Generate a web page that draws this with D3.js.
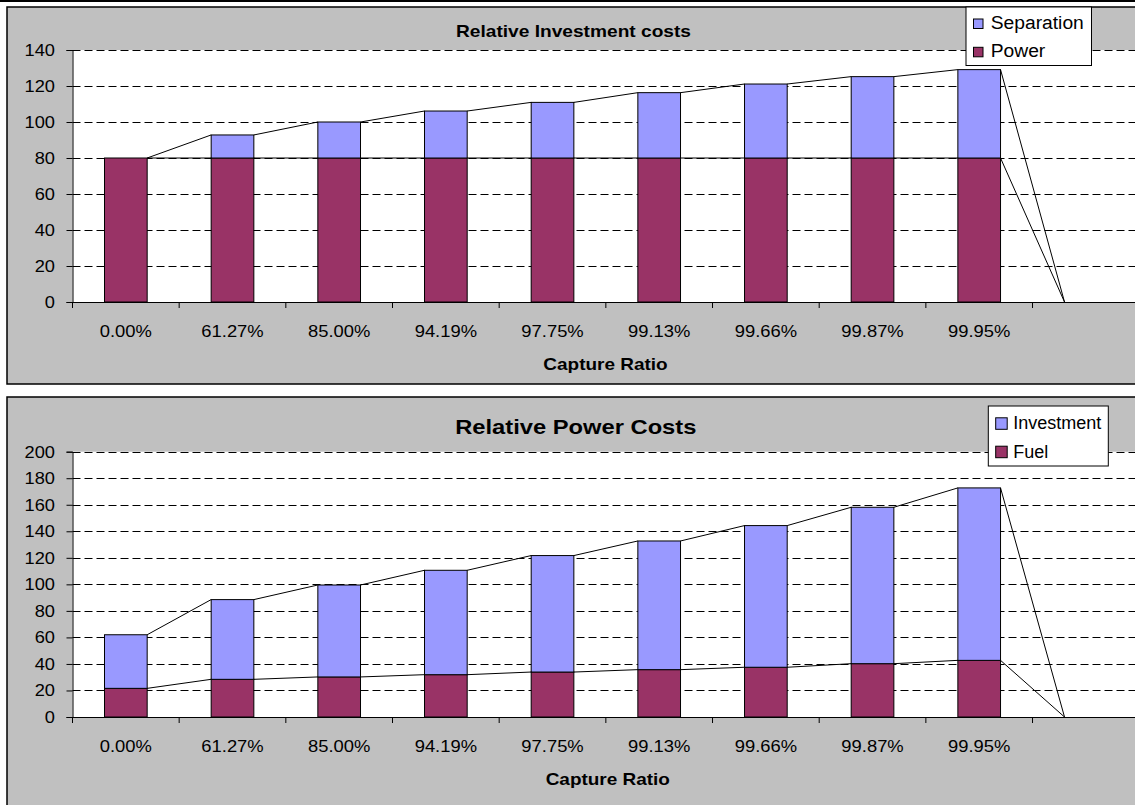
<!DOCTYPE html>
<html>
<head>
<meta charset="utf-8">
<script src="https://cdn.jsdelivr.net/npm/d3@7"></script>
<style>
  html, body { margin: 0; padding: 0; background: #fff; }
  svg { display: block; font-family: "Liberation Sans", Arial, sans-serif; }
</style>
</head>
<body>
<svg id="chart" width="1135" height="805"></svg>
<script>
// Capture-ratio categories (the last slot is an empty category with zero height)
const categories = ["0.00%", "61.27%", "85.00%", "94.19%", "97.75%", "99.13%", "99.66%", "99.87%", "99.95%", ""];

// Relative investment costs
const powerValues = [80, 80, 80, 80, 80, 80, 80, 80, 80, 0];
const separationValues = [0, 12.8, 20, 26.1, 30.9, 36.3, 41.1, 45.2, 49.1, 0];
const investmentTicks = [0, 20, 40, 60, 80, 100, 120, 140];

// Relative power costs
const fuelValues = [21.6, 28.4, 30.2, 31.9, 33.9, 35.7, 37.5, 40.2, 42.7, 0];
const investmentValues = [40.4, 60.1, 69.3, 78.7, 87.8, 97.0, 106.8, 117.9, 130.0, 0];
const powerTicks = [0, 20, 40, 60, 80, 100, 120, 140, 160, 180, 200];

const COLOR_LOWER = "#993366";
const COLOR_UPPER = "#9999FF";
const FONT = "'Liberation Sans', Arial, sans-serif";

const svg = d3.select("#chart");

// thin rule along the top edge
svg.append("rect").attr("x", 0).attr("y", 0).attr("width", 1135).attr("height", 2).attr("fill", "#000");

// text helper: Excel-style horizontally stretched glyphs
function stretchedText(g, x, y, str, opts) {
  return g.append("text")
    .attr("transform", `translate(${x},${y}) scale(${opts.sx || 1},1)`)
    .attr("text-anchor", opts.anchor || "start")
    .attr("font-family", FONT)
    .attr("font-size", opts.size)
    .attr("font-weight", opts.weight || "normal")
    .attr("fill", "#000")
    .text(str);
}

function drawChart(cfg) {
  const g = svg.append("g");

  // chart area
  g.append("rect")
    .attr("x", cfg.frame.x).attr("y", cfg.frame.y)
    .attr("width", cfg.frame.w).attr("height", cfg.frame.h)
    .attr("fill", "#C0C0C0").attr("stroke", "#000").attr("stroke-width", 1.5);

  const x = d3.scaleBand()
    .domain(categories)
    .range([cfg.plot.left, cfg.plot.right])
    .paddingInner(0.6)
    .paddingOuter(0.3);
  const step = x.step();

  const y = d3.scaleLinear()
    .domain([0, cfg.yMax])
    .range([cfg.plot.bottom, cfg.plot.top]);

  // plot area
  g.append("rect")
    .attr("x", cfg.plot.left).attr("y", cfg.plot.top)
    .attr("width", cfg.plot.right - cfg.plot.left)
    .attr("height", cfg.plot.bottom - cfg.plot.top)
    .attr("fill", "#fff");

  // dashed gridlines
  g.append("g").selectAll("line")
    .data(cfg.ticks.filter(t => t > 0))
    .join("line")
    .attr("x1", cfg.plot.left).attr("x2", cfg.plot.right)
    .attr("y1", d => Math.round(y(d)) + 0.5).attr("y2", d => Math.round(y(d)) + 0.5)
    .attr("stroke", "#000").attr("stroke-width", 1)
    .attr("stroke-dasharray", "8,4");

  // stacked bars
  const stack = d3.stack().keys(["lower", "upper"]);
  const rows = categories.map((c, i) => ({ cat: c, lower: cfg.lower[i], upper: cfg.upper[i] }));
  const layers = stack(rows);
  const colors = [COLOR_LOWER, COLOR_UPPER];

  layers.forEach((layer, li) => {
    g.append("g").selectAll("rect")
      .data(layer.filter(d => d[1] - d[0] > 0))
      .join("rect")
      .attr("x", d => x(d.data.cat))
      .attr("width", x.bandwidth())
      .attr("y", d => y(d[1]))
      .attr("height", d => y(d[0]) - y(d[1]))
      .attr("fill", colors[li])
      .attr("stroke", "#000").attr("stroke-width", 1);
  });

  // series lines joining the tops of neighbouring stacks
  layers.forEach(layer => {
    const segs = [];
    for (let i = 0; i < layer.length - 1; i++) {
      segs.push({
        x1: x(layer[i].data.cat) + x.bandwidth(), y1: y(layer[i][1]),
        x2: x(layer[i + 1].data.cat), y2: y(layer[i + 1][1])
      });
    }
    g.append("g").selectAll("line")
      .data(segs)
      .join("line")
      .attr("x1", d => d.x1).attr("y1", d => d.y1)
      .attr("x2", d => d.x2).attr("y2", d => d.y2)
      .attr("stroke", "#000").attr("stroke-width", 1);
  });

  // value axis
  const yAxis = d3.axisLeft(y).tickValues(cfg.ticks).tickSize(6).tickFormat("");
  const ya = g.append("g").attr("transform", `translate(${cfg.plot.left},0)`).call(yAxis);
  ya.selectAll("path,line").attr("stroke", "#000");
  cfg.ticks.forEach(t => {
    stretchedText(g, cfg.plot.left - 17.5, y(t) + 6, String(t), { size: 16, sx: 1.14, anchor: "end" });
  });

  // category axis with ticks on category boundaries
  g.append("line")
    .attr("x1", cfg.plot.left).attr("x2", cfg.plot.right)
    .attr("y1", cfg.plot.bottom + 0.5).attr("y2", cfg.plot.bottom + 0.5)
    .attr("stroke", "#000").attr("stroke-width", 1);
  g.append("g").selectAll("line")
    .data(d3.range(categories.length + 1))
    .join("line")
    .attr("x1", k => cfg.plot.left + k * step).attr("x2", k => cfg.plot.left + k * step)
    .attr("y1", cfg.plot.bottom).attr("y2", cfg.plot.bottom + 6)
    .attr("stroke", "#000").attr("stroke-width", 1);
  categories.forEach(c => {
    if (c) stretchedText(g, x(c) + x.bandwidth() / 2, cfg.plot.bottom + 34.5, c, { size: 16, sx: 1.15, anchor: "middle" });
  });

  // titles
  stretchedText(g, cfg.titleX, cfg.titleY, cfg.title, { size: cfg.titleSize, sx: cfg.titleSx, anchor: "middle", weight: "bold" });
  stretchedText(g, cfg.titleX + 32, cfg.plot.bottom + 67.5, "Capture Ratio", { size: 16.5, sx: 1.15, anchor: "middle", weight: "bold" });

  // legend
  const L = cfg.legend;
  g.append("rect")
    .attr("x", L.x).attr("y", L.y).attr("width", L.w).attr("height", L.h)
    .attr("fill", "#fff").attr("stroke", "#000").attr("stroke-width", 1);
  const items = [
    { label: cfg.upperName, color: COLOR_UPPER },
    { label: cfg.lowerName, color: COLOR_LOWER }
  ];
  items.forEach((it, i) => {
    const by = L.firstBaseline + i * L.rowGap;
    g.append("rect")
      .attr("x", L.swatchX).attr("y", by - L.swatch)
      .attr("width", L.swatch).attr("height", L.swatch)
      .attr("fill", it.color).attr("stroke", "#000").attr("stroke-width", 1);
    stretchedText(g, L.textX, by, it.label, { size: 18, sx: L.sx });
  });
}

drawChart({
  frame: { x: 7, y: 7, w: 1134, h: 377 },
  plot: { left: 72.5, right: 1139.2, top: 50, bottom: 302 },
  yMax: 140,
  ticks: investmentTicks,
  lower: powerValues,
  upper: separationValues,
  lowerName: "Power",
  upperName: "Separation",
  title: "Relative Investment costs",
  titleX: 573.5, titleY: 37.3, titleSize: 16.5, titleSx: 1.16,
  legend: { x: 966, y: 7, w: 125.5, h: 58.5, swatchX: 973.5, swatch: 9.5, textX: 990.7, firstBaseline: 28.5, rowGap: 28.3, sx: 1.07 }
});

drawChart({
  frame: { x: 7, y: 397, w: 1134, h: 420 },
  plot: { left: 72.5, right: 1139.2, top: 451.7, bottom: 717 },
  yMax: 200,
  ticks: powerTicks,
  lower: fuelValues,
  upper: investmentValues,
  lowerName: "Fuel",
  upperName: "Investment",
  title: "Relative Power Costs",
  titleX: 575.8, titleY: 434.3, titleSize: 21, titleSx: 1.13,
  legend: { x: 988.3, y: 406, w: 120, h: 60, swatchX: 995.7, swatch: 11.5, textX: 1013.3, firstBaseline: 429.3, rowGap: 28.4, sx: 1.0 }
});
</script>
</body>
</html>
